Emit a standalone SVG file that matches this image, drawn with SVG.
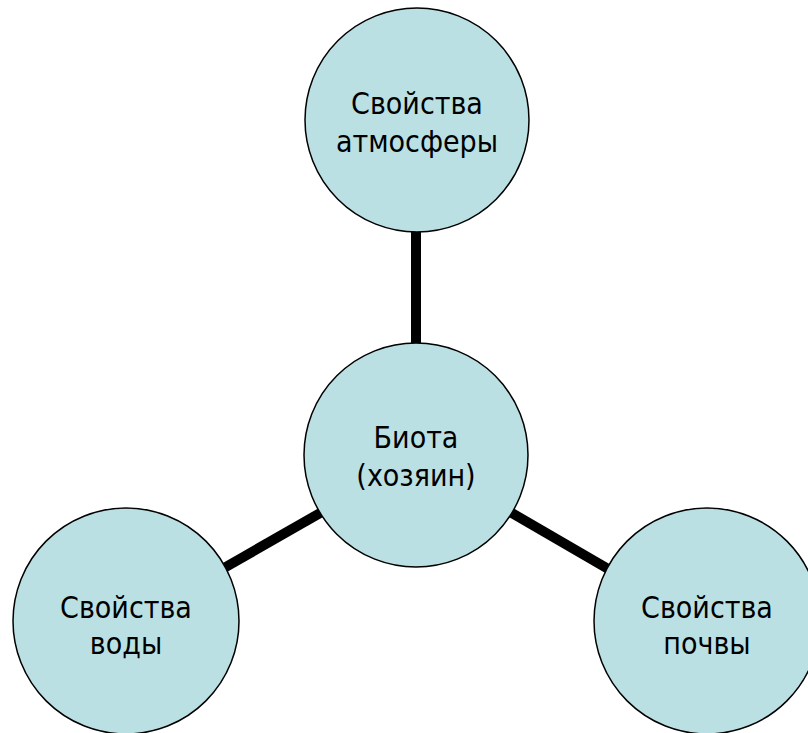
<svg xmlns="http://www.w3.org/2000/svg" width="808" height="733" viewBox="0 0 808 733">
<style>
.node{fill:#BBE0E3;stroke:#000;stroke-width:1.5}
.lbl{font-family:"DejaVu Sans Condensed","DejaVu Sans",sans-serif;font-size:30px;fill:#000;text-anchor:middle}
.conn{stroke:#000;stroke-width:10;fill:none}
</style>
<rect width="808" height="733" fill="#fff"/>
<g id="connectors">
<line class="conn" x1="416" y1="230" x2="416" y2="344"/>
<line class="conn" x1="224" y1="568" x2="322" y2="512"/>
<line class="conn" x1="510" y1="512" x2="610" y2="570"/>
</g>
<g id="atmosphere">
<circle class="node" cx="417" cy="120" r="112"/>
<text class="lbl" x="417" y="114">Свойства</text>
<text class="lbl" x="417" y="152">атмосферы</text>
</g>
<g id="biota">
<circle class="node" cx="416" cy="455" r="112"/>
<text class="lbl" x="416" y="448">Биота</text>
<text class="lbl" x="416" y="486">(хозяин)</text>
</g>
<g id="water">
<circle class="node" cx="126" cy="621" r="113"/>
<text class="lbl" x="126" y="618">Свойства</text>
<text class="lbl" x="126" y="654">воды</text>
</g>
<g id="soil">
<circle class="node" cx="707" cy="621" r="113"/>
<text class="lbl" x="707" y="618">Свойства</text>
<text class="lbl" x="707" y="654">почвы</text>
</g>
</svg>
